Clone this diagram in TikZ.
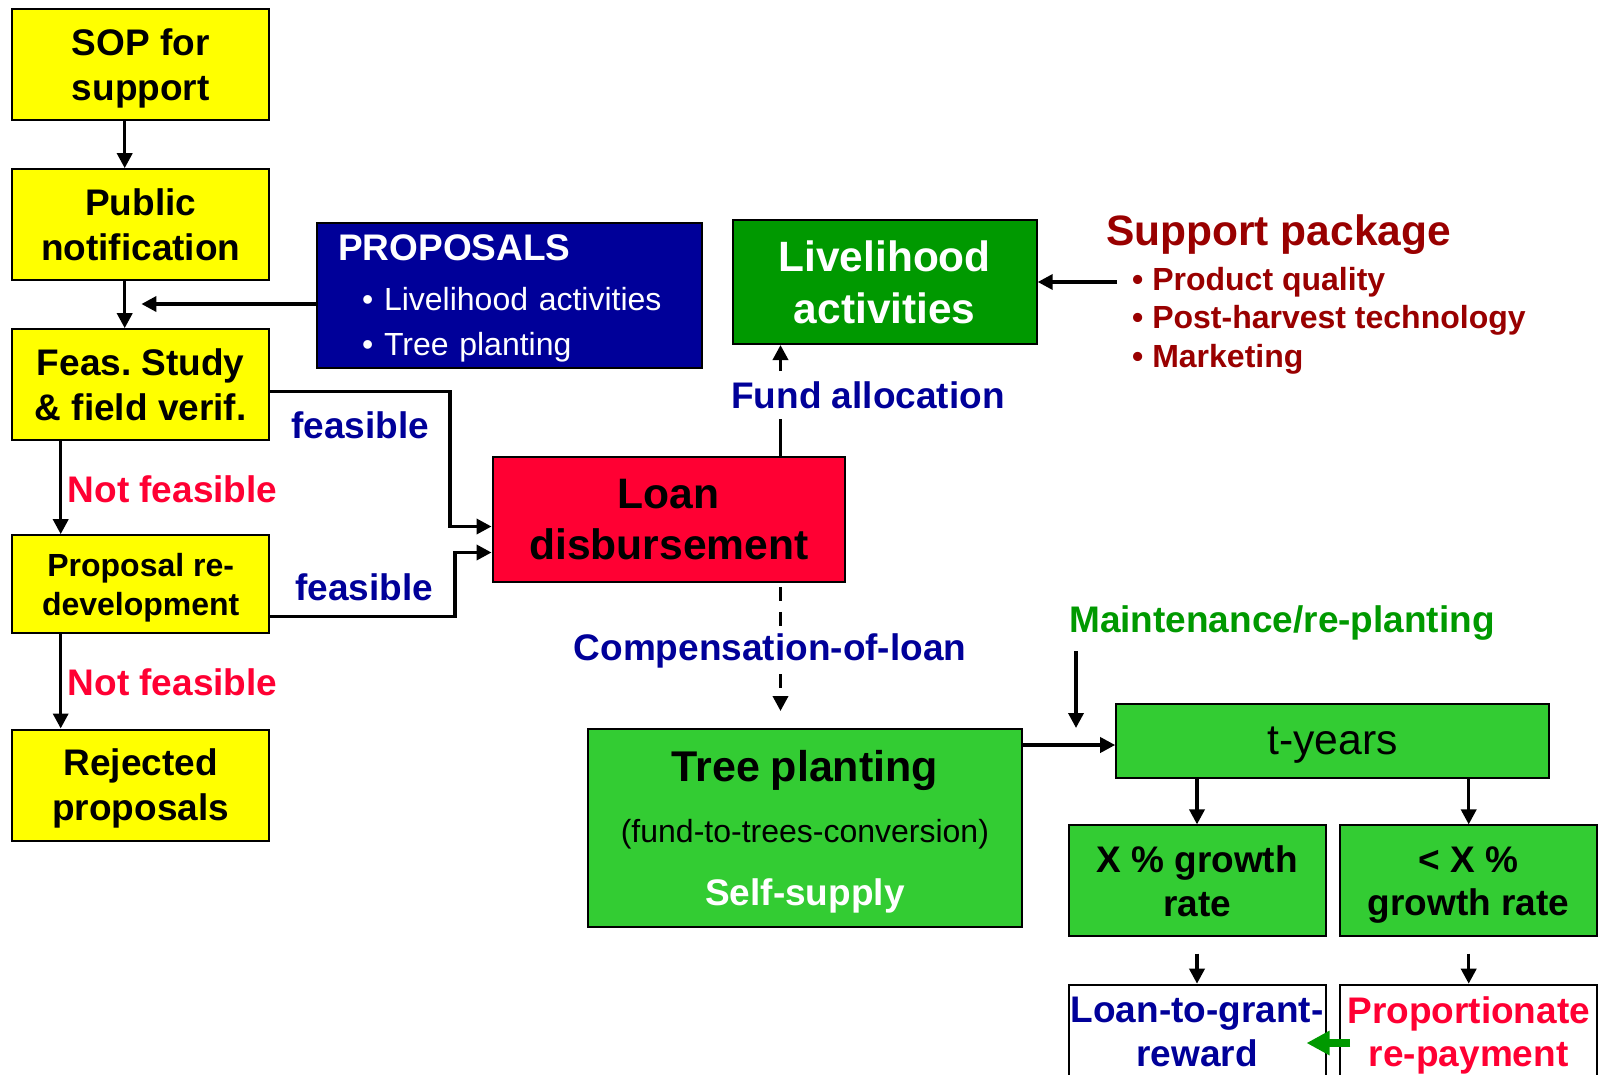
\documentclass[tikz,border=0pt]{standalone}
\usepackage{fontspec}
\setmainfont{Liberation Sans}
\usetikzlibrary{arrows.meta}
\definecolor{sopyellow}{HTML}{FFFF00}
\definecolor{propblue}{HTML}{000099}
\definecolor{loanred}{HTML}{FF0033}
\definecolor{livegreen}{HTML}{009900}
\definecolor{treegreen}{HTML}{33CC33}
\definecolor{packred}{HTML}{990000}
\begin{document}
\begin{tikzpicture}[x=1pt,y=-1pt,
    frame/.style={draw,line width=2pt,inner sep=0pt,align=center,
      font=\bfseries\fontsize{37}{45}\selectfont},
    box/.style={frame,text depth=0pt},
    ybox/.style={box,fill=sopyellow,minimum width=257pt,minimum height=111pt},
    gbox/.style={box,fill=treegreen,minimum width=257pt,minimum height=111pt,
      font=\bfseries\fontsize{37}{43.4}\selectfont},
    wbox/.style={box,fill=white,minimum width=257pt,minimum height=94pt,
      font=\bfseries\fontsize{37}{43.4}\selectfont},
    lbl/.style={inner sep=0pt,font=\bfseries\fontsize{37}{44}\selectfont},
    arr/.style={line width=3.5pt,-{Triangle[length=15pt,width=15pt]}}]
  \clip (0,0) rectangle (1598,1074);
  % application steps
  \node[ybox] (sop) at (140.7,64.5) {SOP for\\support};
  \node[ybox] (pub) at (140.7,224.7) {Public\\notification};
  \node[ybox] (feas) at (140.7,384.7) {Feas.\ Study\\\& field verif.};
  \node[ybox,minimum height=98pt,font=\bfseries\fontsize{32}{39}\selectfont] (redev) at (140.7,584.2) {Proposal re-\\development};
  \node[ybox] (rej) at (140.7,785) {Rejected\\proposals};
  \node[frame,fill=propblue,text=white,minimum width=385pt,minimum height=145pt,
    text width=342pt,text depth=95pt,align=left,font=\fontsize{32}{45.5}\selectfont] (prop) at (509.2,295.4)
    {{\bfseries\fontsize{37}{45.5}\selectfont PROPOSALS}\\[4pt]
     \hspace*{24pt}\textbullet\ Livelihood activities\\
     \hspace*{24pt}\textbullet\ Tree planting};
  % loan and what it pays for
  \node[box,fill=loanred,minimum width=352.5pt,minimum height=124.5pt,
    font=\bfseries\fontsize{42.6}{50.7}\selectfont] (loan) at (668.8,519.5) {Loan\\disbursement};
  \node[box,fill=livegreen,text=white,minimum width=304pt,minimum height=124pt,
    font=\bfseries\fontsize{42.4}{51.3}\selectfont] (live) at (884.7,282) {Livelihood\\activities};
  \node[lbl,text=packred,anchor=base west,font=\bfseries\fontsize{42.5}{50}\selectfont] (pack) at (1106,245) {Support package};
  \node[anchor=north west,inner xsep=15pt,inner ysep=0pt,align=left,text=packred,
    font=\bfseries\fontsize{32}{38.5}\selectfont] (plist) at (1117,266.7)
    {\textbullet\ Product quality\\\textbullet\ Post-harvest technology\\\textbullet\ Marketing};
  \node[lbl,inner ysep=10pt,text=propblue] (fund) at (868,395) {Fund allocation};
  \node[lbl,inner ysep=6pt,text=propblue] (comp) at (770,651) {Compensation-of-loan};
  \node[frame,fill=treegreen,minimum width=433.7pt,minimum height=197.7pt,text width=430pt,
    text depth=124pt,font=\fontsize{32}{61}\selectfont] (tree) at (804.9,827.9)
    {{\bfseries\fontsize{43}{61}\selectfont Tree planting}\\(fund-to-trees-conversion)\\[2pt]{\bfseries\fontsize{37}{61}\selectfont\color{white}Self-supply}};
  % growth check
  \node[box,fill=treegreen,minimum width=433pt,minimum height=73.4pt,
    font=\fontsize{42.7}{50}\selectfont] (tyears) at (1332.7,741) {t-years};
  \node[lbl,text=livegreen,anchor=base west] (maint) at (1069,632) {Maintenance/re-planting};
  \node[gbox] (xgr) at (1197,880.9) {X \% growth\\rate};
  \node[gbox] (lgr) at (1468.7,880.9) {< X \%\\growth rate};
  \node[wbox,text=propblue] (reward) at (1197,1031.7) {Loan-to-grant-\\reward};
  \node[wbox,text=loanred] (repay) at (1468.7,1031.7) {Proportionate\\re-payment};
  % branch labels
  \node[lbl,text=propblue] (fs1) at (360,425.5) {feasible};
  \node[lbl,text=propblue] (fs2) at (364,587) {feasible};
  \node[lbl,text=loanred] (nf1) at (172.6,489.5) {Not feasible};
  \node[lbl,text=loanred] (nf2) at (172.6,682) {Not feasible};
  \coordinate (pin) at (141.4,304);
  \coordinate (fx) at (780.5,0);
  \coordinate (mend) at (1076,728);
  \begin{scope}[arr]
    \draw ([xshift=-16pt]sop.south) -- ([xshift=-16pt]pub.north);
    \draw ([xshift=-16pt]pub.south) -- ([xshift=-16pt]feas.north);
    \draw ([yshift=-8.6pt]prop.west) -- (pin);
    \draw ([xshift=-80pt]feas.south) -- ([xshift=-80pt]redev.north);
    \draw ([xshift=-80pt]redev.south) -- ([xshift=-80pt]rej.north);
    \draw ([yshift=-7pt]feas.east) -- ++(180,0) |- ([yshift=-7pt]loan.west);
    \draw ([yshift=-32.5pt]redev.east) -- ++(185,0) |- ([yshift=-33pt]loan.west);
    \draw[-] (loan.north -| fx) -- (fund.south -| fx);
    \draw (fund.north -| fx) -- (live.south -| fx);
    \draw (plist.west |- live.east) -- (live.east);
    \draw[-,dash pattern=on 14pt off 11pt,shorten <=4pt] (loan.south -| fx) -- (comp.north -| fx);
    \draw[dash pattern=on 14pt off 11pt,shorten >=17pt] (comp.south -| fx) -- (tree.north -| fx);
    \draw ([yshift=-4pt]tree.east |- tyears.west) -- ([yshift=-4pt]tyears.west);
    \draw[shorten <=11pt] (maint.south -| mend) -- (mend);
    \draw (tyears.south -| xgr.north) -- (xgr.north);
    \draw (tyears.south -| lgr.north) -- (lgr.north);
    \draw ([yshift=-16.3pt]xgr.south) -- (reward.north);
    \draw ([yshift=-16.3pt]lgr.south) -- (repay.north);
  \end{scope}
  \draw[livegreen,line width=8pt,-{Triangle[length=23pt,width=23pt]}]
    ([xshift=11pt,yshift=-11.3pt]repay.west) -- ([xshift=-20pt,yshift=-11.3pt]reward.east);
\end{tikzpicture}
\end{document}
